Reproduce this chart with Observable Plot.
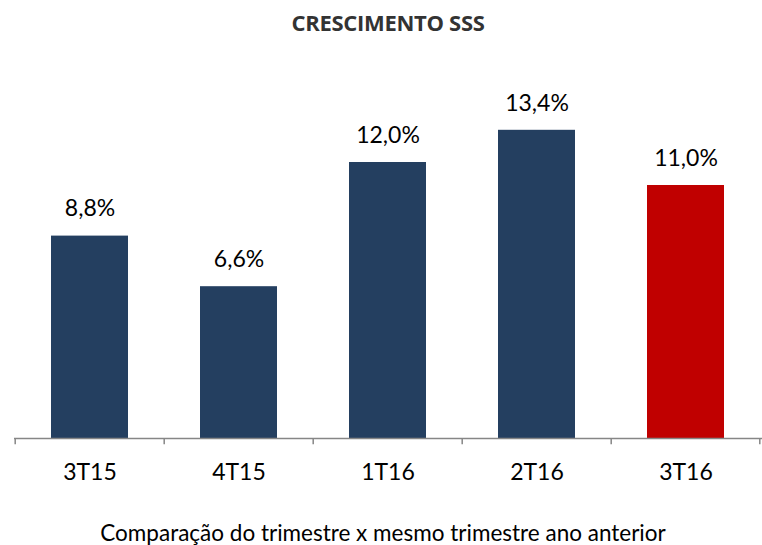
<!DOCTYPE html>
<html>
<head>
<meta charset="utf-8">
<script src="https://cdn.jsdelivr.net/npm/d3@7"></script>
<script src="https://cdn.jsdelivr.net/npm/@observablehq/plot@0.6"></script>
<style>
  body { margin: 0; background: #fff; font-family: Lato, "Open Sans", sans-serif; }
  #wrap { position: relative; width: 762px; height: 545px; overflow: hidden; }
  #title { position: absolute; top: 7px; left: 0; width: 776px; text-align: center; font-weight: bold; font-size: 22px; line-height: 30px; color: #333; font-family: "Open Sans", sans-serif; letter-spacing: -0.3px; }
  #chart { position: absolute; top: 50px; left: 0; }
  #caption { position: absolute; top: 519px; left: 0; width: 766px; text-align: center; font-size: 22.5px; line-height: 28px; color: #000; }
</style>
</head>
<body>
<div id="wrap">
  <div id="title">CRESCIMENTO SSS</div>
  <div id="chart"></div>
  <div id="caption">Comparação do trimestre x mesmo trimestre ano anterior</div>
</div>
<script>
const categories = ["3T15", "4T15", "1T16", "2T16", "3T16"];
const values = [8.8, 6.6, 12.0, 13.4, 11.0];
const highlight = ["3T16"];

const data = categories.map((c, i) => ({ cat: c, value: values[i], hl: highlight.includes(c) }));
const fmt = v => v.toFixed(1).replace(".", ",") + "%";
const step = 748 / categories.length;

const chart = Plot.plot({
  width: 762,
  height: 440,
  marginLeft: 14,
  marginRight: 0,
  marginTop: 20,
  marginBottom: 52,
  style: { fontFamily: "Lato, 'Open Sans', sans-serif", background: "transparent" },
  x: { type: "band", domain: categories, paddingInner: 0.48, paddingOuter: 0.24, axis: null },
  y: { domain: [0, 16], axis: null },
  marks: [
    Plot.barY(data, { x: "cat", y: "value", fill: d => d.hl ? "#C00000" : "#243F60" }),
    Plot.ruleY([0], { stroke: "#868686", strokeWidth: 1.5 }),
    Plot.ruleX(categories, { x: d => d, y1: 0, y2: -0.27, dx: -step / 2, stroke: "#868686", strokeWidth: 1.5 }),
    Plot.ruleX(categories.slice(-1), { x: d => d, y1: 0, y2: -0.27, dx: step / 2 - 1, stroke: "#868686", strokeWidth: 1.5 }),
    Plot.text(data, { x: "cat", y: "value", text: d => fmt(d.value), dy: -27, fontSize: 23, fill: "#000" }),
    Plot.text(data, { x: "cat", y: 0, text: "cat", dy: 34, fontSize: 23, fill: "#000" })
  ]
});
document.getElementById("chart").appendChild(chart);
</script>
</body>
</html>
